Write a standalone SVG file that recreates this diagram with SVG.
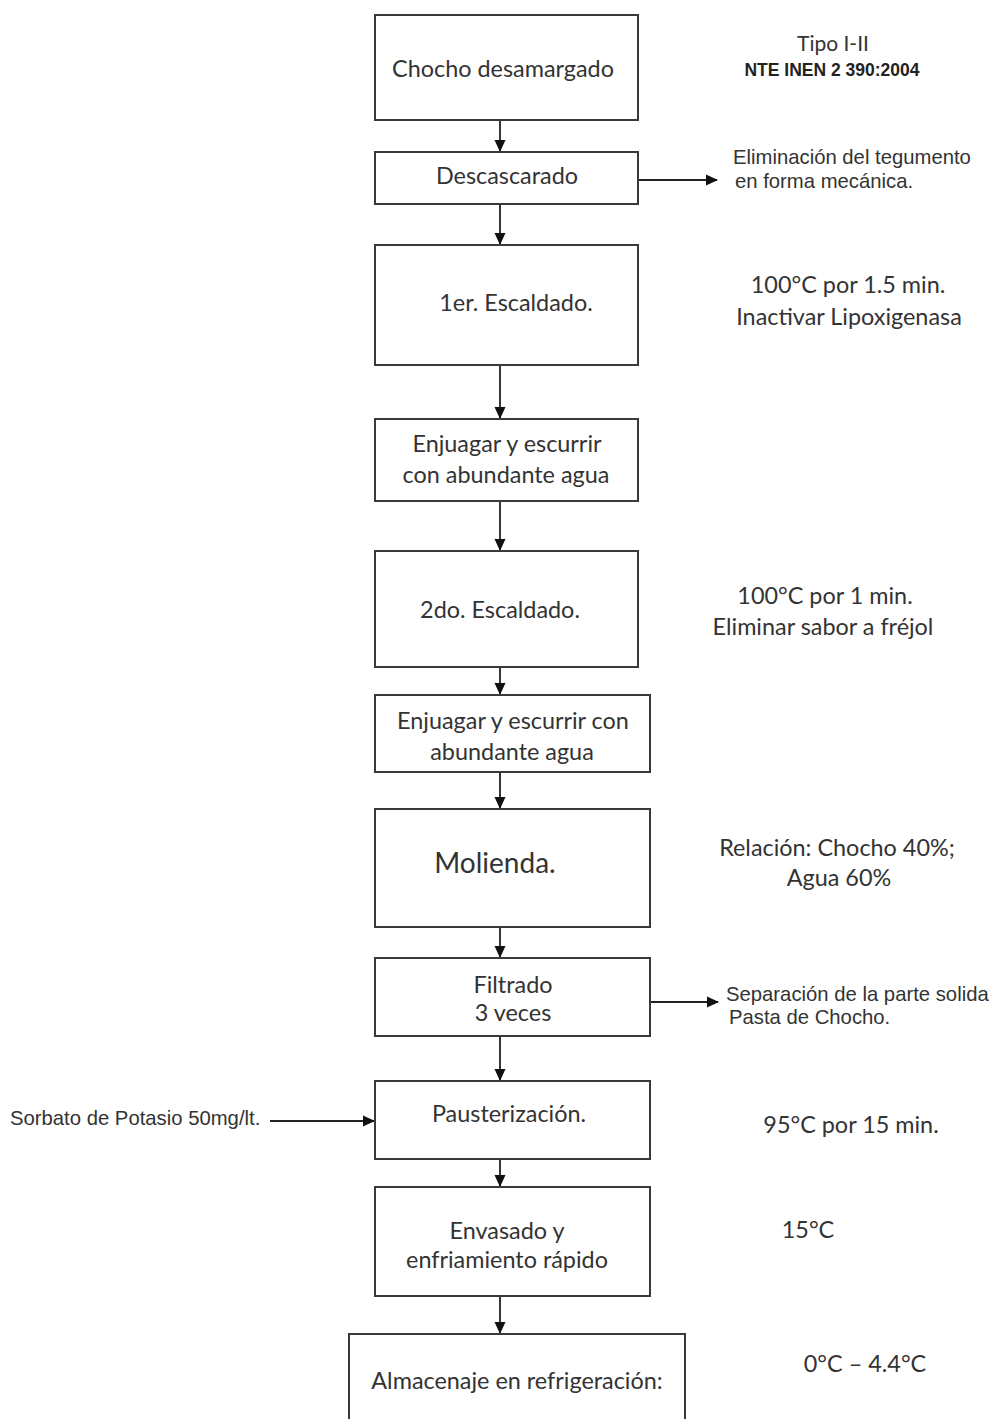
<svg xmlns="http://www.w3.org/2000/svg" width="995" height="1419" viewBox="0 0 995 1419">
<style>
.box{fill:#fff;stroke:#3a3a3a;stroke-width:2}
.t{font-family:Lato,"Open Sans",sans-serif;font-size:23.4px;fill:#333;text-anchor:middle}
.s{font-family:"Liberation Sans",Arial,sans-serif;font-size:20.3px;fill:#333}
.b{font-family:"Liberation Sans",Arial,sans-serif;font-size:17.5px;font-weight:bold;fill:#222;text-anchor:middle}
.c{stroke:#222;stroke-width:1.8;fill:none;marker-end:url(#ah)}
</style>
<defs>
<marker id="ah" markerWidth="12" markerHeight="12" refX="11" refY="6" orient="auto" markerUnits="userSpaceOnUse">
<path d="M0,0.5 L12,6 L0,11.5 Z" fill="#111"/>
</marker>
</defs>
<rect width="995" height="1419" fill="#fff"/>
<g id="connectors">
<line class="c" x1="500" y1="121" x2="500" y2="151"/>
<line class="c" x1="500" y1="205" x2="500" y2="244"/>
<line class="c" x1="639" y1="180" x2="717" y2="180"/>
<line class="c" x1="500" y1="366" x2="500" y2="418"/>
<line class="c" x1="500" y1="502" x2="500" y2="550"/>
<line class="c" x1="500" y1="668" x2="500" y2="694"/>
<line class="c" x1="500" y1="773" x2="500" y2="808"/>
<line class="c" x1="500" y1="928" x2="500" y2="957"/>
<line class="c" x1="651" y1="1002" x2="718" y2="1002"/>
<line class="c" x1="500" y1="1037" x2="500" y2="1080"/>
<line class="c" x1="270" y1="1121" x2="374" y2="1121"/>
<line class="c" x1="500" y1="1160" x2="500" y2="1186"/>
<line class="c" x1="500" y1="1297" x2="500" y2="1333"/>
</g>
<g id="n1"><rect class="box" x="375" y="15" width="263" height="105"/><text class="t" x="503" y="77">Chocho desamargado</text></g>
<g id="n1note"><text class="t" x="833" y="51" style="font-size:21px">Tipo I-II</text><text class="b" x="832" y="76">NTE INEN 2 390:2004</text></g>
<g id="n2"><rect class="box" x="375" y="152" width="263" height="52"/><text class="t" x="507" y="184">Descascarado</text></g>
<g id="n2note"><text class="s" x="733" y="164">Eliminación del tegumento</text><text class="s" x="735" y="188">en forma mecánica.</text></g>
<g id="n3"><rect class="box" x="375" y="245" width="263" height="120"/><text class="t" x="516" y="311">1er. Escaldado.</text></g>
<g id="n3note"><text class="t" x="848" y="293">100°C por 1.5 min.</text><text class="t" x="849" y="325">Inactivar Lipoxigenasa</text></g>
<g id="n4"><rect class="box" x="375" y="419" width="263" height="82"/><text class="t" x="507" y="452">Enjuagar y escurrir</text><text class="t" x="506" y="483">con abundante agua</text></g>
<g id="n5"><rect class="box" x="375" y="551" width="263" height="116"/><text class="t" x="500" y="618">2do. Escaldado.</text></g>
<g id="n5note"><text class="t" x="825" y="604">100°C por 1 min.</text><text class="t" x="823" y="635">Eliminar sabor a fréjol</text></g>
<g id="n6"><rect class="box" x="375" y="695" width="275" height="77"/><text class="t" x="513" y="729">Enjuagar y escurrir con</text><text class="t" x="512" y="760">abundante agua</text></g>
<g id="n7"><rect class="box" x="375" y="809" width="275" height="118"/><text class="t" x="495" y="873" style="font-size:28px">Molienda.</text></g>
<g id="n7note"><text class="t" x="837" y="856">Relación: Chocho 40%;</text><text class="t" x="839" y="886">Agua 60%</text></g>
<g id="n8"><rect class="box" x="375" y="958" width="275" height="78"/><text class="t" x="513" y="993">Filtrado</text><text class="t" x="513" y="1021">3 veces</text></g>
<g id="n8note"><text class="s" x="726" y="1001">Separación de la parte solida</text><text class="s" x="729" y="1024">Pasta de Chocho.</text></g>
<g id="n9"><rect class="box" x="375" y="1081" width="275" height="78"/><text class="t" x="509" y="1122">Pausterización.</text></g>
<g id="n9in"><text class="s" x="10" y="1125">Sorbato de Potasio 50mg/lt.</text></g>
<g id="n9note"><text class="t" x="851" y="1133">95°C por 15 min.</text></g>
<g id="n10"><rect class="box" x="375" y="1187" width="275" height="109"/><text class="t" x="507" y="1239">Envasado y</text><text class="t" x="507" y="1268">enfriamiento rápido</text></g>
<g id="n10note"><text class="t" x="808" y="1238">15°C</text></g>
<g id="n11"><rect class="box" x="349" y="1334" width="336" height="95"/><text class="t" x="517" y="1389">Almacenaje en refrigeración:</text></g>
<g id="n11note"><text class="t" x="865" y="1372">0°C – 4.4°C</text></g>
</svg>
